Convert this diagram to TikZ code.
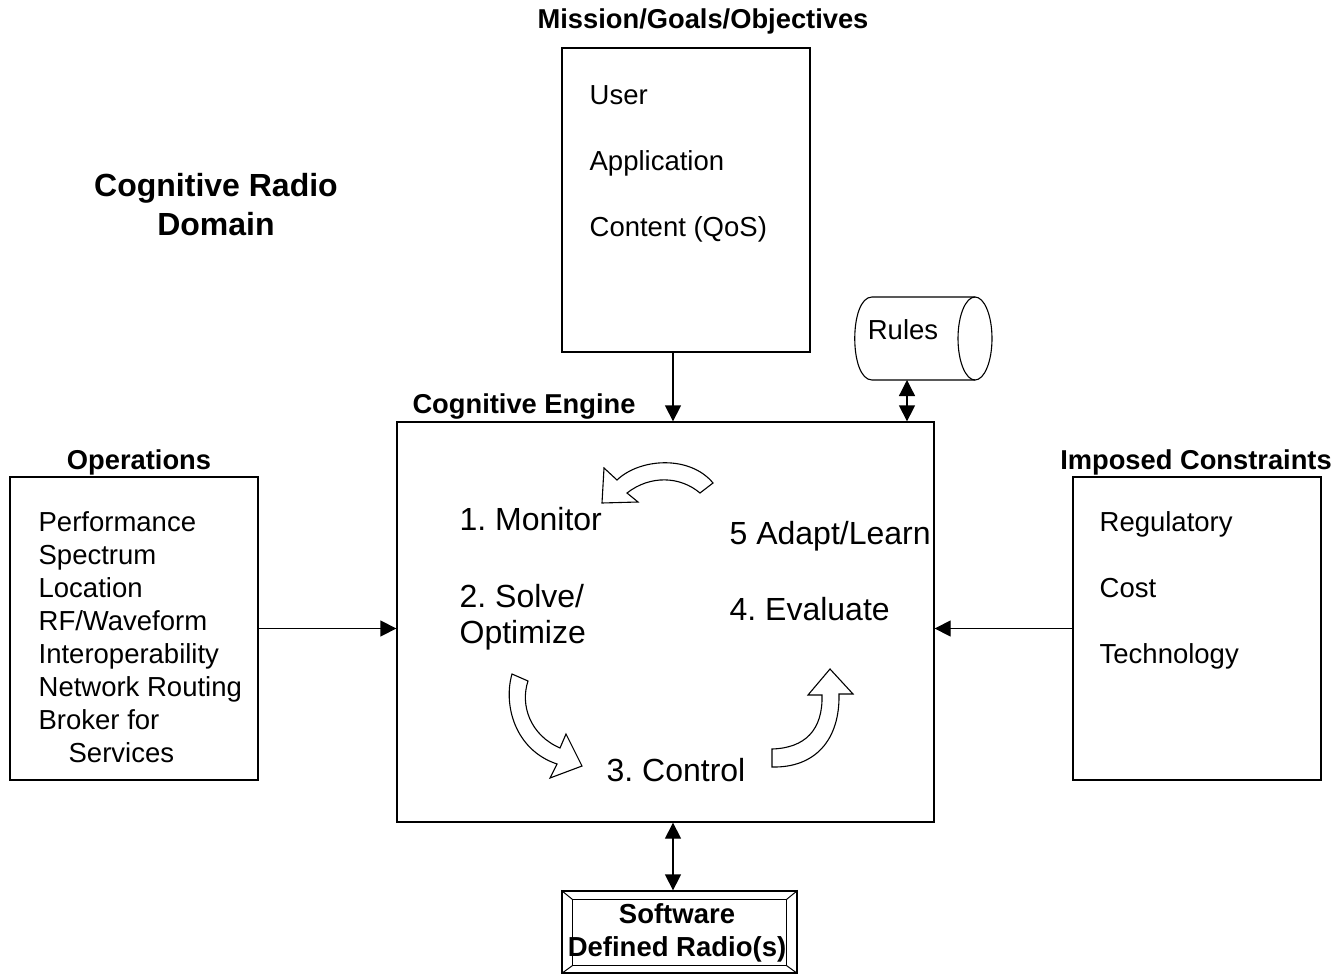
\documentclass[tikz,border=0pt]{standalone}
\usepackage{fontspec}
\setmainfont{Liberation Sans}
\usetikzlibrary{arrows.meta}
\frenchspacing

\begin{document}
\begin{tikzpicture}[x=1pt, y=-1pt, line width=1.3pt,
        >={Triangle[length=16pt,width=16pt]},
        txt/.style={anchor=base west, inner sep=0pt, font=\fontsize{27.5}{33}\selectfont},
        big/.style={anchor=base west, inner sep=0pt, font=\fontsize{32}{37}\selectfont},
        hd/.style={anchor=base, inner sep=0pt, font=\fontsize{27.3}{32}\selectfont\bfseries},
        blk/.style={draw, rectangle, inner sep=0pt}]
        \useasboundingbox (0,0) rectangle (1344,974);
        % boxes
        \node[blk, minimum width=248pt, minimum height=304pt](mission) at (686,200){};
        \node[blk, minimum width=537pt, minimum height=400pt](engine) at (665.5,622){};
        \node[blk, minimum width=248pt, minimum height=303pt](ops) at (134,628.5){};
        \node[blk, minimum width=248pt, minimum height=303pt](cons) at (1197,628.5){};
        \node[blk, minimum width=235pt, minimum height=82pt](sdr) at (679.5,932){};
        \draw[line width=1pt] ([shift={(11,9)}]sdr.north west) rectangle ([shift={(-11,-8)}]sdr.south east);
        \draw[line width=1pt] (sdr.north west)--([shift={(11,9)}]sdr.north west);
        \draw[line width=1pt] (sdr.north east)--([shift={(-11,9)}]sdr.north east);
        \draw[line width=1pt] (sdr.south west)--([shift={(11,-8)}]sdr.south west);
        \draw[line width=1pt] (sdr.south east)--([shift={(-11,-8)}]sdr.south east);
        % rules drum
        \draw[line width=1.1pt] (975,297) -- (872,297) .. controls (849,297) and (849,380) .. (872,380) -- (975,380);
        \draw[line width=1.1pt] (975,338.5) ellipse [x radius=17, y radius=41.5];
        \node[txt, anchor=base](rules) at (903,339){Rules};
        \coordinate (rulesfoot) at (907,380);
        % headings
        \node[hd](missionhd) at (703,29){Mission/Goals/Objectives};
        \node[hd](enginehd) at (524,413){Cognitive Engine};
        \node[hd](opshd) at (139,469){Operations};
        \node[hd](conshd) at (1196,469){Imposed Constraints};
        \node[align=center, inner sep=0pt, font=\fontsize{32}{39}\selectfont\bfseries](domain) at (216,205){Cognitive Radio\\Domain};
        \node[align=center, inner sep=0pt, font=\fontsize{27.5}{33}\selectfont\bfseries](sdrtxt) at (677,933){Software\\Defined Radio(s)};
        % mission list
        \node[txt](user) at (589,104){User};
        \node[txt](app) at (589,170){Application};
        \node[txt](content) at (589,236){Content (QoS)};
        % operations list
        \node[txt](perf) at (38,531){Performance};
        \node[txt](spec) at (38,564){Spectrum};
        \node[txt](loc) at (38,597){Location};
        \node[txt](rf) at (38,630){RF/Waveform};
        \node[txt](interop) at (38,663){Interoperability};
        \node[txt](netrt) at (38,696){Network Routing};
        \node[txt](broker) at (38,729){Broker for};
        \node[txt](serv) at (68,762){Services};
        % constraints list
        \node[txt](reg) at (1099,531){Regulatory};
        \node[txt](cost) at (1099,597){Cost};
        \node[txt](tech) at (1099,663){Technology};
        % cycle
        \node[big](monitor) at (459,530){1. Monitor};
        \node[big](solve) at (459,607){2. Solve/};
        \node[big](optim) at (459,643){Optimize};
        \node[big](control) at (606,781){3. Control};
        \node[big](evaluate) at (729,620){4. Evaluate};
        \node[big](adapt) at (729,544){5 Adapt/Learn};
        \draw[line width=1.1pt, fill=white] (713,483) .. controls (690,455) and (640,458) .. (617,480) -- (604,468) -- (602,503) -- (638,502) -- (627,493) .. controls (650,475) and (680,476) .. (700,493) -- cycle;
        \draw[line width=1.1pt, fill=white] (512,674) .. controls (503,705) and (515,750) .. (557,764) -- (550,778) -- (582,766) -- (566,734) -- (560,748) .. controls (530,735) and (520,705) .. (528,681) -- cycle;
        \draw[line width=1.1pt, fill=white] (772,749) .. controls (805,748) and (823,730) .. (822,695) -- (808,695) -- (830,669) -- (853,694) -- (839,694) .. controls (840,740) and (815,768) .. (772,767) -- cycle;
        % connectors
        \draw[->] ([xshift=-13pt]mission.south) -- ([xshift=-13pt]mission.south |- engine.north);
        \draw[<->] (rulesfoot) -- (rulesfoot |- engine.north);
        \draw[->] (ops.east) -- (ops.east -| engine.west);
        \draw[->] (cons.west) -- (cons.west -| engine.east);
        \draw[<->] ([xshift=7.5pt]engine.south) -- ([xshift=7.5pt]engine.south |- sdr.north);
    \end{tikzpicture}
\end{document}
